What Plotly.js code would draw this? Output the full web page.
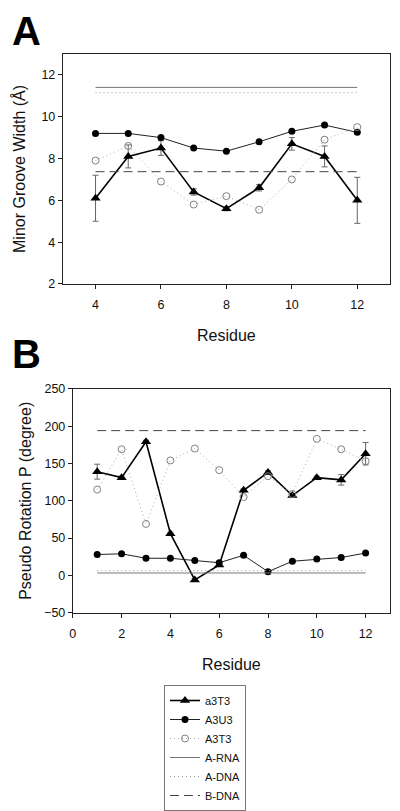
<!DOCTYPE html>
<html><head><meta charset="utf-8">
<script src="https://cdn.plot.ly/plotly-3.0.1.min.js"></script>
<style>body{margin:0;padding:0;background:#fff}#chart{width:400px;height:811px}</style>
</head><body><div id="chart"></div>
<script>
// Panel A data (minor groove width)
const residuesA = [4,5,6,7,8,9,10,11,12];
const a3T3_A = [6.1,8.1,8.5,6.4,5.6,6.6,8.7,8.1,6.0];
const a3T3_A_err = [1.1,0.55,0.35,0.15,0.1,0.15,0.3,0.5,1.1];
const A3U3_A = [9.2,9.2,9.0,8.5,8.35,8.8,9.3,9.6,9.25];
const A3T3_A = [7.9,8.6,6.9,5.8,6.2,5.55,7.0,8.9,9.5];
const refXA = [4,12];
const ARNA_A = 11.4, ADNA_A = 11.15, BDNA_A = 7.37;

// Panel B data (pseudorotation phase)
const residuesB = [1,2,3,4,5,6,7,8,9,10,11,12];
const a3T3_B = [139,131,179,56,-6,14,114,138,107,131,128,163];
const a3T3_B_err = [10,2,2,2,2,2,2,2,2,2,7,15];
const A3U3_B = [28,29,23,23,20,17,27,5,19,22,24,30];
const A3T3_B = [115,169,69,154,170,141,105,133,109,183,169,153];
const refXB = [1,12];
const ARNA_B = 3.3, ADNA_B = 6.4, BDNA_B = 194;

const names = ['a3T3','A3U3','A3T3','A-RNA','A-DNA','B-DNA'];

function series(x, a, aerr, u, t, rna, adna, bdna, refX, xa, ya, leg) {
  return [
    {x:x, y:a, name:names[0], legendgroup:names[0], showlegend:leg, xaxis:xa, yaxis:ya,
     mode:'lines+markers', line:{color:'#000', width:1.6},
     marker:{symbol:'triangle-up', size:9, color:'#000'},
     error_y:{type:'data', array:aerr, visible:true, color:'#666', thickness:1, width:3}},
    {x:x, y:u, name:names[1], legendgroup:names[1], showlegend:leg, xaxis:xa, yaxis:ya,
     mode:'lines+markers', line:{color:'#222', width:1},
     marker:{symbol:'circle', size:7, color:'#000'}},
    {x:x, y:t, name:names[2], legendgroup:names[2], showlegend:leg, xaxis:xa, yaxis:ya,
     mode:'lines+markers', line:{color:'#aaa', width:1, dash:'1px,3px'},
     marker:{symbol:'circle-open', size:7, color:'#808080', line:{width:1}}},
    {x:refX, y:[rna,rna], name:names[3], legendgroup:names[3], showlegend:leg, xaxis:xa, yaxis:ya,
     mode:'lines', line:{color:'#777', width:1}},
    {x:refX, y:[adna,adna], name:names[4], legendgroup:names[4], showlegend:leg, xaxis:xa, yaxis:ya,
     mode:'lines', line:{color:'#999', width:1, dash:'1px,3px'}},
    {x:refX, y:[bdna,bdna], name:names[5], legendgroup:names[5], showlegend:leg, xaxis:xa, yaxis:ya,
     mode:'lines', line:{color:'#444', width:1, dash:'9px,5px'}}
  ];
}

const data = [].concat(
  series(residuesA, a3T3_A, a3T3_A_err, A3U3_A, A3T3_A, ARNA_A, ADNA_A, BDNA_A, refXA, 'x', 'y', true),
  series(residuesB, a3T3_B, a3T3_B_err, A3U3_B, A3T3_B, ARNA_B, ADNA_B, BDNA_B, refXB, 'x2', 'y2', false)
);

const fontFam = 'Liberation Sans, Arial, Helvetica, sans-serif';
const axisCommon = {
  showgrid:false, zeroline:false, showline:true, linecolor:'#222', linewidth:1, mirror:true,
  ticks:'outside', ticklen:4, tickwidth:1, tickcolor:'#222',
  tickfont:{family:fontFam, size:12.5, color:'#111'}, automargin:false
};
const titleFont = {family:fontFam, size:16, color:'#111'};

const layout = {
  width:400, height:811,
  margin:{l:0, r:0, t:0, b:0},
  paper_bgcolor:'#fff', plot_bgcolor:'#fff',
  font:{family:fontFam, color:'#111'},
  showlegend:true,
  legend:{x:0.5125, y:0.0764, xanchor:'center', yanchor:'middle', bordercolor:'#777', borderwidth:1,
          bgcolor:'#fff', font:{family:fontFam, size:11, color:'#111'}, itemwidth:30, tracegroupgap:0},
  xaxis:Object.assign({}, axisCommon, {domain:[0.157,0.975], range:[3,13], tickvals:[4,6,8,10,12],
        ticklabelstandoff:5, title:{text:'Residue', font:titleFont, standoff:18}, anchor:'y'}),
  yaxis:Object.assign({}, axisCommon, {domain:[0.6494,0.9334], range:[2,13], tickvals:[2,4,6,8,10,12],
        title:{text:'Minor Groove Width (Å)', font:titleFont, standoff:11}, anchor:'x'}),
  xaxis2:Object.assign({}, axisCommon, {domain:[0.182,0.975], range:[0,13], tickvals:[0,2,4,6,8,10,12],
        ticklabelstandoff:5, title:{text:'Residue', font:titleFont, standoff:19}, anchor:'y2'}),
  yaxis2:Object.assign({}, axisCommon, {domain:[0.2435,0.52], range:[-50,250], tickvals:[-50,0,50,100,150,200,250],
        title:{text:'Pseudo Rotation P (degree)', font:titleFont, standoff:8}, anchor:'x2'}),
  annotations:[
    {text:'<b>A</b>', xref:'paper', yref:'paper', x:10/400, y:1-31/811, xanchor:'left', yanchor:'middle',
     showarrow:false, font:{family:fontFam, size:40, color:'#000'}},
    {text:'<b>B</b>', xref:'paper', yref:'paper', x:10/400, y:1-354/811, xanchor:'left', yanchor:'middle',
     showarrow:false, font:{family:fontFam, size:40, color:'#000'}}
  ]
};

Plotly.newPlot('chart', data, layout, {staticPlot:true, displayModeBar:false});
</script></body></html>
